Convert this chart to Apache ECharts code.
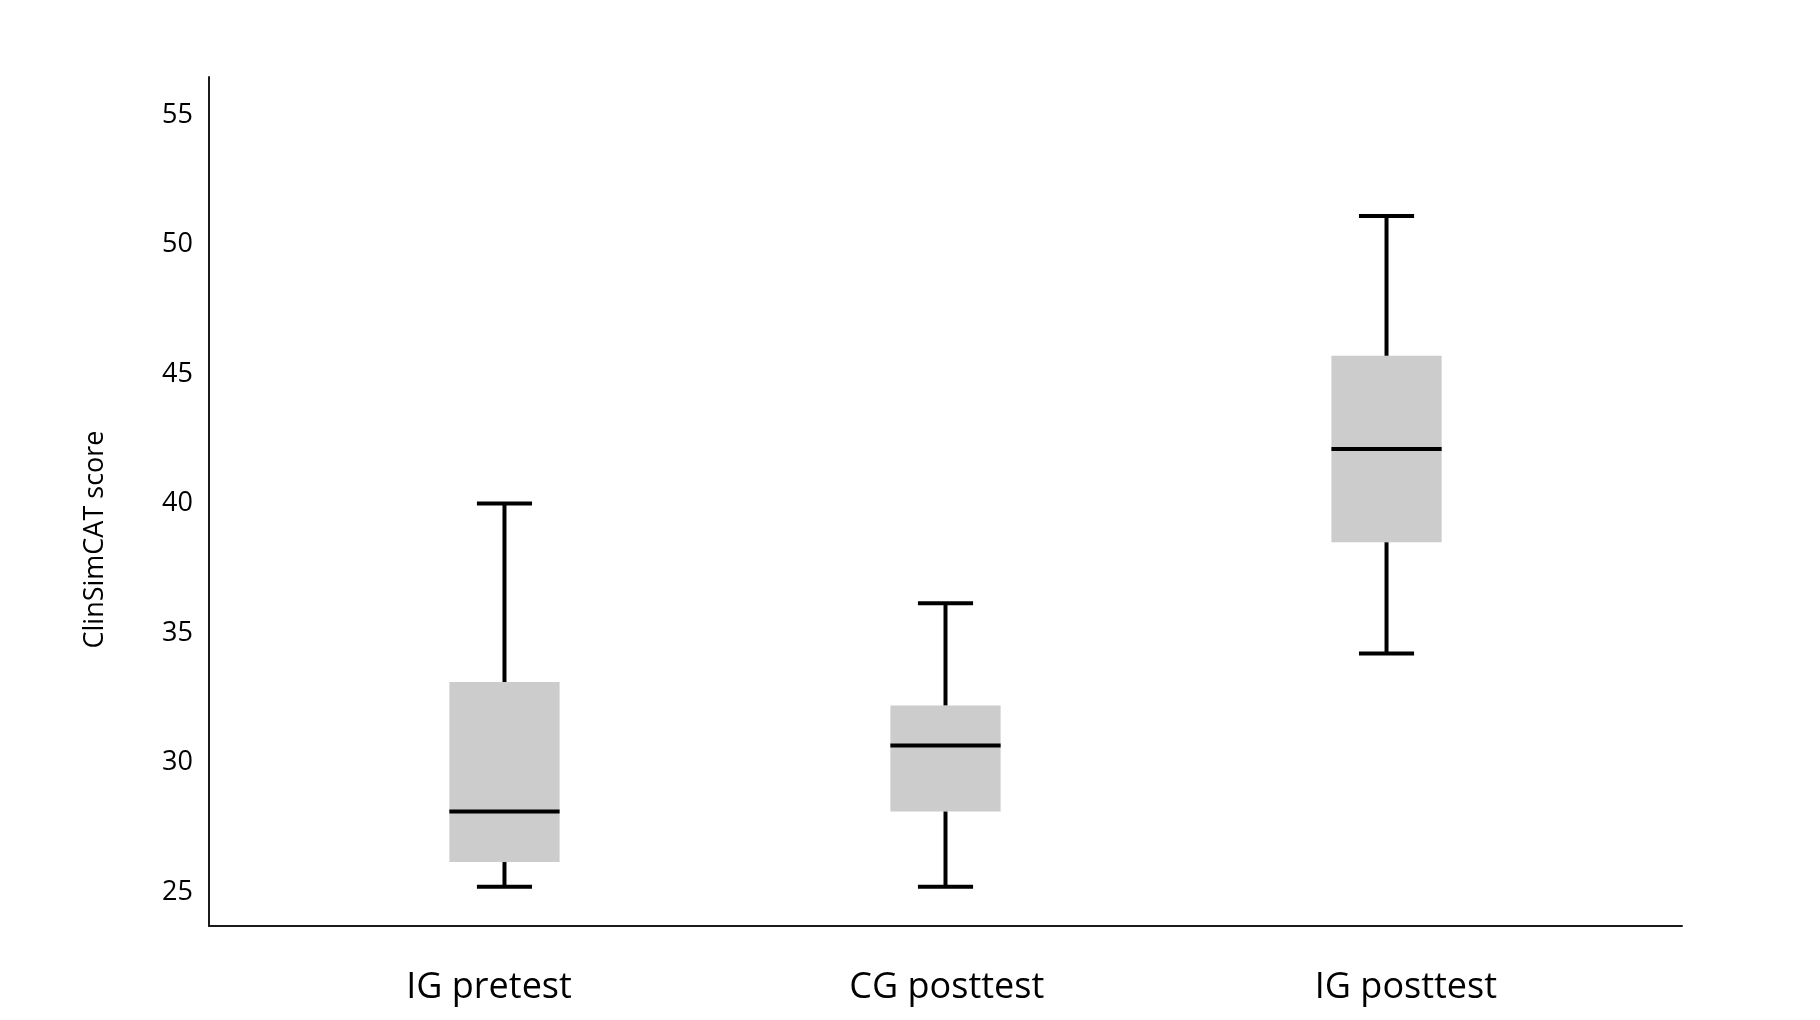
<!DOCTYPE html>
<html>
<head>
<meta charset="utf-8">
<title>ClinSimCAT score</title>
<script src="https://cdn.jsdelivr.net/npm/echarts@6/dist/echarts.min.js"></script>
<style>
  html, body { margin: 0; padding: 0; background: #fff; }
  #main { width: 1820px; height: 1020px; }
</style>
</head>
<body>
<div id="main"></div>
<script>
  // groups and box statistics
  const categories = ['IG pretest', 'CG posttest', 'IG posttest']
  const whiskerLow = [25.2, 25.2, 34.2]
  const q1 = [26.15, 28.1, 38.5]
  const median = [28.1, 30.65, 42.1]
  const q3 = [33.1, 32.2, 45.7]
  const whiskerHigh = [40.0, 36.15, 51.1]

  // tick labels
  const yTicks = [25, 30, 35, 40, 45, 50, 55]
  const xLabelAt = [-0.035, 1.003, 2.044]

  const boxData = categories.map((name, i) => [i, whiskerLow[i], q1[i], median[i], q3[i], whiskerHigh[i]])

  const font = '"Open Sans", "Noto Sans", sans-serif'
  const ink = '#000'

  const renderBox = (params, api) => {
    let x = api.value(0)
    let low = api.coord([x, api.value(1)])
    let lo = api.coord([x, api.value(2)])
    let mid = api.coord([x, api.value(3)])
    let hi = api.coord([x, api.value(4)])
    let high = api.coord([x, api.value(5)])
    let boxW = api.size([0.25, 0])[0]
    let capW = boxW / 2
    let cx = mid[0]
    let lineStyle = { stroke: ink, lineWidth: 4 }
    return {
      type: 'group',
      children: [
        { type: 'rect', shape: { x: cx - boxW / 2, y: hi[1], width: boxW, height: lo[1] - hi[1] }, style: { fill: '#cccccc' } },
        { type: 'line', shape: { x1: cx, y1: hi[1], x2: cx, y2: high[1] }, style: lineStyle },
        { type: 'line', shape: { x1: cx, y1: lo[1], x2: cx, y2: low[1] }, style: lineStyle },
        { type: 'line', shape: { x1: cx - capW / 2, y1: high[1], x2: cx + capW / 2, y2: high[1] }, style: lineStyle },
        { type: 'line', shape: { x1: cx - capW / 2, y1: low[1], x2: cx + capW / 2, y2: low[1] }, style: lineStyle },
        { type: 'line', shape: { x1: cx - boxW / 2, y1: mid[1], x2: cx + boxW / 2, y2: mid[1] }, style: lineStyle }
      ]
    }
  }

  let myChart = echarts.init(document.getElementById('main'))

  let option = {
    animation: false,
    backgroundColor: '#fff',
    grid: {
      left: 209,
      right: 138,
      top: 77,
      bottom: 94
    },
    xAxis: {
      type: 'value',
      min: -0.67,
      max: 2.67,
      axisLine: { show: true, onZero: false, lineStyle: { color: '#1a1a1a', width: 2 } },
      axisTick: { show: false },
      splitLine: { show: false },
      axisLabel: {
        customValues: xLabelAt,
        formatter: (v) => categories[Math.round(v)] || '',
        color: ink,
        fontFamily: font,
        fontSize: 36,
        margin: 44
      }
    },
    yAxis: {
      type: 'value',
      min: 23.68,
      max: 56.47,
      name: 'ClinSimCAT score',
      nameLocation: 'middle',
      nameGap: 100,
      nameTextStyle: {
        color: ink,
        fontFamily: font,
        fontSize: 27,
        padding: [0, 76, 0, 0]
      },
      axisLine: { show: true, onZero: false, lineStyle: { color: '#1a1a1a', width: 2 } },
      axisTick: { show: false },
      splitLine: { show: false },
      axisLabel: {
        customValues: yTicks,
        color: ink,
        fontFamily: font,
        fontSize: 27,
        margin: 16
      }
    },
    series: [
      {
        type: 'custom',
        renderItem: renderBox,
        encode: { x: 0, y: [1, 2, 3, 4, 5] },
        data: boxData
      }
    ]
  }

  myChart.setOption(option)
</script>
</body>
</html>
